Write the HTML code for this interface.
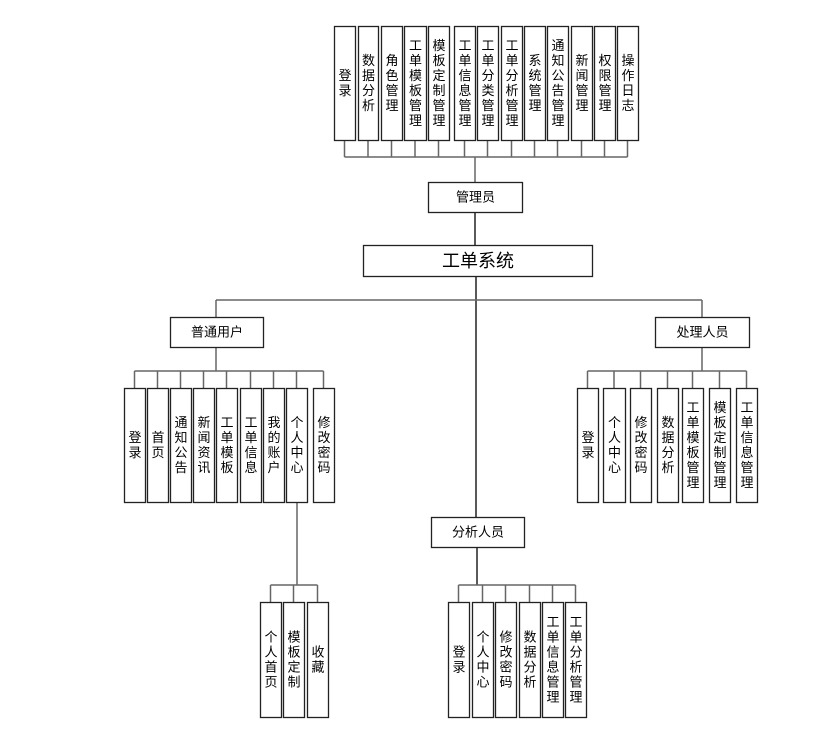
<!DOCTYPE html>
<html><head><meta charset="utf-8"><style>
html,body{margin:0;padding:0;background:#fff;}
svg{display:block;}
text{font-family:"Liberation Sans","Noto Sans CJK SC",sans-serif;fill:#000;}
</style></head><body>
<svg width="838" height="738" viewBox="0 0 838 738" xmlns="http://www.w3.org/2000/svg">
<g id="lines" stroke="#666" stroke-width="1.5" fill="none"></g>
<g id="boxes"></g>
</svg>
<script>
const NS="http://www.w3.org/2000/svg";
const L=document.getElementById('lines'),B=document.getElementById('boxes');
function line(x1,y1,x2,y2,c){const e=document.createElementNS(NS,'line');e.setAttribute('x1',x1);e.setAttribute('y1',y1);e.setAttribute('x2',x2);e.setAttribute('y2',y2);if(c)e.setAttribute('stroke',c);L.appendChild(e);}
function rect(x,y,w,h){const r=document.createElementNS(NS,'rect');r.setAttribute('x',x+.5);r.setAttribute('y',y+.5);r.setAttribute('width',w);r.setAttribute('height',h);r.setAttribute('fill','#fff');r.setAttribute('stroke','#222');r.setAttribute('stroke-width','1.3');B.appendChild(r);}
function txt(x,y,s,fs){const t=document.createElementNS(NS,'text');t.setAttribute('x',x);t.setAttribute('y',y);t.setAttribute('text-anchor','middle');t.setAttribute('font-size',fs);t.textContent=s;B.appendChild(t);}
function hbox(x1,y1,x2,y2,s,fs){rect(x1,y1,x2-x1,y2-y1);txt((x1+x2)/2+.5,(y1+y2)/2+fs*0.36,s,fs);}
function vbox(x1,y1,x2,y2,s){rect(x1,y1,x2-x1,y2-y1);const n=s.length,lh=15,cx=(x1+x2)/2+.5,cy=(y1+y2)/2;const top=cy-n*lh/2;for(let i=0;i<n;i++)txt(cx,top+i*lh+12,s[i],13);}
function group(xs,labels,y1,y2,busY){const cs=xs.map(p=>(p[0]+p[1])/2);line(cs[0],busY,cs[cs.length-1],busY);cs.forEach(c=>line(c,busY,c,y1));xs.forEach((p,i)=>vbox(p[0],y1,p[1],y2,labels[i]));}
// top
group([[334,355],[358,378],[381,402],[404,426],[428,449],[454,475],[477,498],[501,522],[524,545],[547,568],[571,592],[594,615],[617,638]],
["登录","数据分析","角色管理","工单模板管理","模板定制管理","工单信息管理","工单分类管理","工单分析管理","系统管理","通知公告管理","新闻管理","权限管理","操作日志"],26,140,157);
line(475,157,475,182);hbox(428,182,522,212,"管理员",13);
line(475,212,475,245,"#222");hbox(363,245,592,276,"工单系统",18);
line(476,276,476,517,"#222");
line(216,300,702,300);
line(216,300,216,317);hbox(170,317,263,347,"普通用户",13);
line(702,300,702,317);hbox(655,317,749,347,"处理人员",13);
line(216,347,216,371);
group([[124,145],[147,168],[170,191],[193,214],[216,237],[240,261],[263,284],[286,307],[313,334]],
["登录","首页","通知公告","新闻资讯","工单模板","工单信息","我的账户","个人中心","修改密码"],388,502,371);
line(297,502,297,585);
group([[260,281],[283,304],[307,328]],["个人首页","模板定制","收藏"],602,717,585);
line(702,347,702,371);
group([[577,598],[603,625],[630,651],[657,678],[682,703],[709,730],[736,757]],
["登录","个人中心","修改密码","数据分析","工单模板管理","模板定制管理","工单信息管理"],388,502,371);
hbox(431,517,524,547,"分析人员",13);
line(477,547,477,585,"#222");
group([[448,469],[472,493],[495,516],[519,540],[542,563],[565,586]],
["登录","个人中心","修改密码","数据分析","工单信息管理","工单分析管理"],602,717,585);
</script>
</body></html>
